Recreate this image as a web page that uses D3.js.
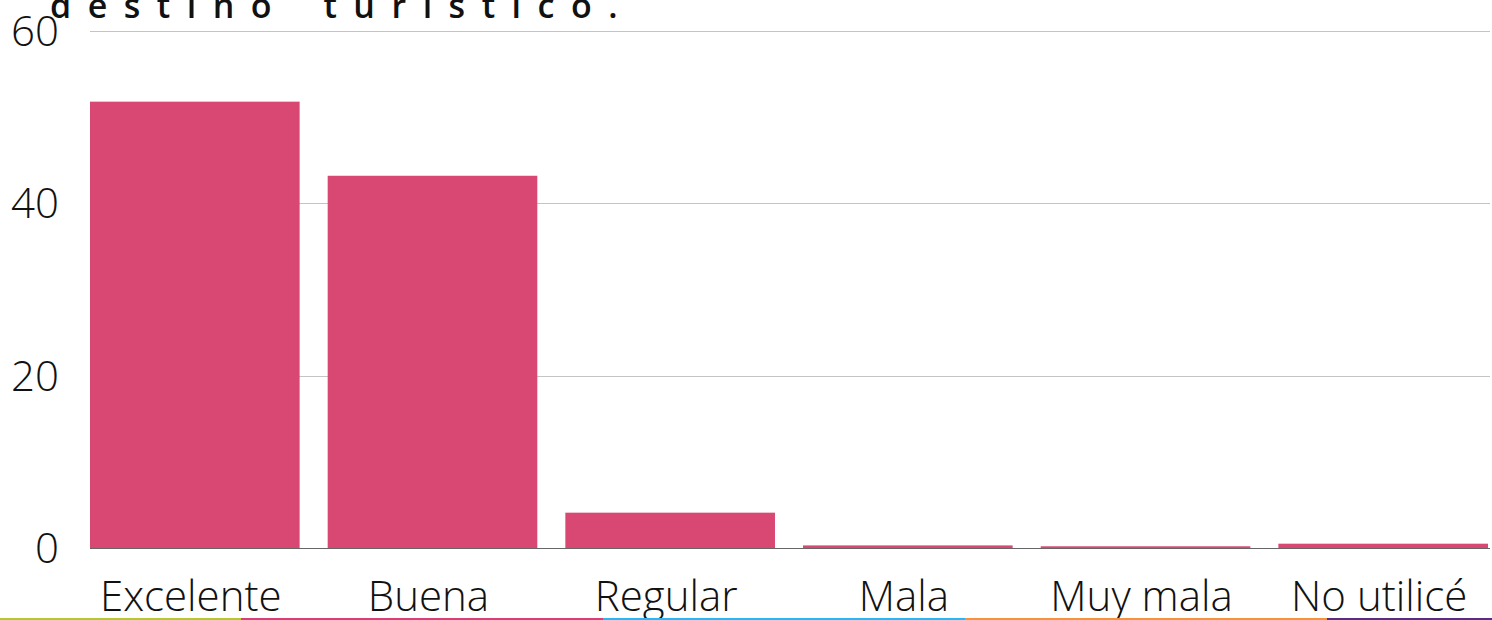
<!DOCTYPE html>
<html>
<head>
<meta charset="utf-8">
<script src="https://cdn.jsdelivr.net/npm/d3@7"></script>
<style>
  html, body { margin: 0; padding: 0; background: #fff; }
  svg { display: block; }
</style>
</head>
<body>
<svg id="chart" width="1492" height="620"></svg>
<script>
// ----- data -----
var categories = ["Excelente", "Buena", "Regular", "Mala", "Muy mala", "No utilicé"];
var values = [51.8, 43.2, 4.1, 0.3, 0.2, 0.5];
var yTicks = [0, 20, 40, 60];
var title = "destino turístico.";
var stripColors = ["#b5c92e", "#d93f76", "#29b6f6", "#f6923c", "#5b2d82"];

var W = 1492, H = 620;
var plotLeft = 90, plotRight = 1490, plotTop = 31, plotBottom = 548;

var svg = d3.select("#chart");

var x = d3.scaleBand()
    .domain(categories)
    .range([plotLeft, 1488])
    .paddingInner(0.118)
    .paddingOuter(0);

var y = d3.scaleLinear()
    .domain([0, 60])
    .range([plotBottom, plotTop]);

// gridlines
svg.append("g")
  .selectAll("line")
  .data(yTicks.filter(function(d){ return d > 0; }))
  .join("line")
    .attr("x1", plotLeft)
    .attr("x2", plotRight)
    .attr("y1", function(d){ return Math.round(y(d)) + 0.5; })
    .attr("y2", function(d){ return Math.round(y(d)) + 0.5; })
    .attr("stroke", "#c4c4c4")
    .attr("stroke-width", 1);

// baseline
svg.append("line")
  .attr("x1", plotLeft).attr("x2", plotRight)
  .attr("y1", Math.round(y(0)) + 0.5).attr("y2", Math.round(y(0)) + 0.5)
  .attr("stroke", "#666").attr("stroke-width", 1);

// bars
svg.append("g")
  .selectAll("rect")
  .data(values)
  .join("rect")
    .attr("x", function(d, i){ return x(categories[i]); })
    .attr("width", x.bandwidth())
    .attr("y", function(d){ return y(d); })
    .attr("height", function(d){ return y(0) - y(d); })
    .attr("fill", "#d94872");

// y labels
svg.append("g")
  .selectAll("text")
  .data(yTicks)
  .join("text")
    .attr("x", 59)
    .attr("y", function(d){ return y(d); })
    .attr("dy", "0.36em")
    .attr("text-anchor", "end")
    .attr("font-family", "'Open Sans', sans-serif")
    .attr("font-weight", 300)
    .attr("font-size", 42)
    .attr("fill", "#111")
    .text(function(d){ return d; });

// x labels
svg.append("g")
  .selectAll("text")
  .data(categories)
  .join("text")
    .attr("x", function(d){ return x(d) + x.bandwidth() / 2 - 4; })
    .attr("y", 611)
    .attr("text-anchor", "middle")
    .attr("font-family", "'Open Sans', sans-serif")
    .attr("font-weight", 300)
    .attr("font-size", 42)
    .attr("fill", "#111")
    .text(function(d){ return d; });

// title (cut at top)
svg.append("text")
  .attr("x", 50)
  .attr("y", 18)
  .attr("font-family", "'Open Sans', sans-serif")
  .attr("font-weight", 600)
  .attr("font-size", 34)
  .attr("letter-spacing", 16.5)
  .attr("word-spacing", 10)
  .attr("fill", "#111")
  .text(title);

// colour strip along the bottom
var sx = d3.scaleLinear().domain([0, 5]).range([-121, 1689]);
svg.append("g")
  .selectAll("rect")
  .data(stripColors)
  .join("rect")
    .attr("x", function(d, i){ return sx(i); })
    .attr("width", function(d, i){ return sx(i + 1) - sx(i); })
    .attr("y", H - 2)
    .attr("height", 2)
    .attr("fill", function(d){ return d; });
</script>
</body>
</html>
